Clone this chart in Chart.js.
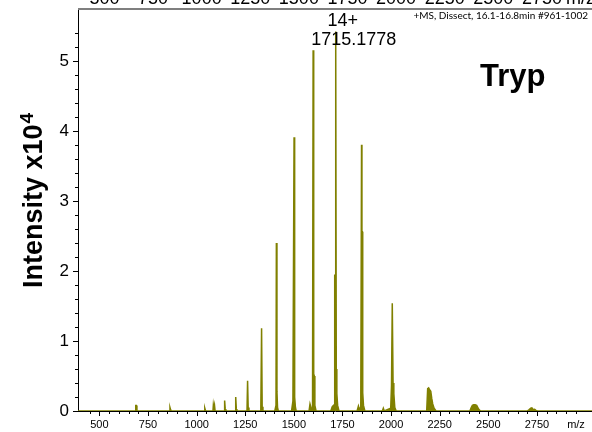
<!DOCTYPE html>
<html>
<head>
<meta charset="utf-8">
<script src="https://cdn.jsdelivr.net/npm/chart.js@4/dist/chart.umd.min.js"></script>
<style>
  html, body { margin: 0; padding: 0; background: #fff; }
  canvas { display: block; }
</style>
</head>
<body>
<canvas id="spectrum" width="592" height="432"></canvas>
<script>
// profile of the deconvoluted Tryp spectrum, m/z vs intensity (x10^4)
const mz = [
  390, 684, 687, 690, 693,
  860, 863, 866, 869,
  1039, 1042, 1045, 1048,
  1084, 1086, 1089, 1092, 1095,
  1141, 1144, 1147, 1150,
  1198, 1201, 1204, 1207,
  1259, 1262, 1265, 1269,
  1330, 1334, 1337, 1341,
  1402, 1405, 1408, 1410, 1413, 1416, 1420,
  1488, 1492, 1495, 1497, 1499, 1501, 1504, 1508, 1512,
  1578, 1583, 1587, 1591, 1596, 1599, 1602, 1605, 1608, 1614,
  1690, 1697, 1703, 1708, 1710, 1712, 1715.18, 1718, 1721, 1725, 1732,
  1825, 1832, 1836, 1844, 1848, 1850, 1852, 1854, 1858, 1865,
  1955, 1960, 1965, 1998, 2002, 2006, 2010, 2014, 2019, 2026,
  2183, 2188, 2193, 2199, 2204, 2209, 2214, 2221, 2231,
  2405, 2412, 2418, 2425, 2432, 2440, 2446, 2452, 2460,
  2700, 2710, 2718, 2724, 2730, 2738, 2745, 2752,
  3033
];
const intensity = [
  0, 0, 0.08, 0.08, 0,
  0, 0.05, 0.02, 0,
  0, 0.04, 0.01, 0,
  0, 0.085, 0.03, 0.08, 0,
  0, 0.15, 0.03, 0,
  0, 0.2, 0.03, 0,
  0, 0.43, 0.05, 0,
  0, 1.18, 0.06, 0,
  0, 0.04, 0, 2.4, 0.28, 0.05, 0,
  0, 0.08, 0.02, 1.4, 1.4, 3.91, 0.2, 0.05, 0,
  0, 0.1, 0.1, 0.02, 0.05, 5.15, 0.53, 0.5, 0.08, 0,
  0, 0.06, 0.08, 0.04, 1.94, 1.94, 5.42, 0.6, 0.25, 0.08, 0,
  0, 0.07, 0.03, 0.05, 3.8, 2.56, 2.56, 0.26, 0.08, 0,
  0, 0.04, 0, 0.04, 0.36, 1.54, 0.4, 0.25, 0.05, 0,
  0, 0.32, 0.33, 0.3, 0.28, 0.18, 0.1, 0.04, 0,
  0, 0.05, 0.08, 0.09, 0.09, 0.08, 0.05, 0.02, 0,
  0, 0.02, 0.04, 0.045, 0.02, 0.025, 0.01, 0,
  0
];
const xLabels = [500, 750, 1000, 1250, 1500, 1750, 2000, 2250, 2500, 2750];
const yLabels = [0, 1, 2, 3, 4, 5];
const peakCharge = '14+';
const peakMz = 1715.1778;
const scanInfo = '+MS, Dissect, 16.1-16.8min #961-1002';
const sampleName = 'Tryp';

const olive = 'rgb(128,128,0)';
const points = mz.map((m, i) => ({ x: m, y: intensity[i] }));

const near = (v, step) => Math.abs(v / step - Math.round(v / step)) < 1e-6;

// no extra room for half-labels at the axis ends
const noPad = s => {
  s.paddingTop = 0; s.paddingBottom = 0;
  s.paddingLeft = 0; s.paddingRight = 0;
};

const decor = {
  id: 'decor',
  afterDraw(chart) {
    const { ctx, chartArea: a, scales: { x, y } } = chart;
    ctx.save();

    // grey frame line along the top
    ctx.strokeStyle = '#7f7f7f';
    ctx.lineWidth = 2;
    ctx.beginPath();
    ctx.moveTo(a.left, a.top);
    ctx.lineTo(chart.width, a.top);
    ctx.stroke();

    // tick marks, long on labelled values
    ctx.strokeStyle = '#000';
    ctx.lineWidth = 1;
    ctx.beginPath();
    x.ticks.forEach(t => {
      if (!near(t.value, 50)) return;
      const px = Math.round(x.getPixelForValue(t.value)) + 0.5;
      const len = near(t.value, 250) ? 5 : 3;
      ctx.moveTo(px, a.bottom);
      ctx.lineTo(px, a.bottom + len);
    });
    y.ticks.forEach(t => {
      if (!near(t.value, 0.2)) return;
      const py = Math.round(y.getPixelForValue(t.value)) + 0.5;
      const len = near(t.value, 1) ? 5 : 3;
      ctx.moveTo(a.left, py);
      ctx.lineTo(a.left - len, py);
    });
    ctx.stroke();

    ctx.fillStyle = '#000';

    // tail of the axis labels of the panel above
    ctx.font = '18px "Liberation Sans", Arial, sans-serif';
    ctx.textAlign = 'center';
    ctx.textBaseline = 'alphabetic';
    xLabels.forEach(v => ctx.fillText(String(v), x.getPixelForValue(v) + 5, 4));
    ctx.textAlign = 'left';
    ctx.fillText('m/z', 566, 4);

    // m/z unit at the end of the x axis
    ctx.font = '11px "Liberation Sans", Arial, sans-serif';
    ctx.textAlign = 'center';
    ctx.textBaseline = 'middle';
    ctx.fillText('m/z', 576, 425);

    // peak annotation
    const px = x.getPixelForValue(peakMz);
    ctx.font = '18px "Liberation Sans", Arial, sans-serif';
    ctx.textBaseline = 'alphabetic';
    ctx.fillText(peakCharge, px + 7, 26);
    ctx.fillText(peakMz.toFixed(4), px + 18, 45);

    // scan info
    ctx.font = '10px Lato, "Open Sans", sans-serif';
    ctx.textAlign = 'right';
    ctx.fillText(scanInfo, 588, 19);

    // sample name
    ctx.font = 'bold 31px "Liberation Sans", Arial, sans-serif';
    ctx.textAlign = 'left';
    ctx.fillText(sampleName, 480, 86);

    // y axis title with superscript exponent
    ctx.translate(42, 288);
    ctx.rotate(-Math.PI / 2);
    ctx.font = 'bold 27px "Liberation Sans", Arial, sans-serif';
    ctx.textAlign = 'left';
    const base = 'Intensity x10';
    ctx.fillText(base, 0, 0);
    const w = ctx.measureText(base).width;
    ctx.font = 'bold 19px "Liberation Sans", Arial, sans-serif';
    ctx.fillText('4', w + 1, -9);

    ctx.restore();
  }
};

new Chart(document.getElementById('spectrum'), {
  type: 'line',
  data: {
    datasets: [{
      data: points,
      borderColor: olive,
      backgroundColor: olive,
      borderWidth: 1.5,
      pointRadius: 0,
      tension: 0,
      fill: 'origin'
    }]
  },
  options: {
    responsive: false,
    animation: false,
    events: [],
    layout: { padding: { top: 9, right: 0, left: 0, bottom: 0 } },
    plugins: {
      legend: { display: false },
      tooltip: { enabled: false }
    },
    scales: {
      x: {
        type: 'linear',
        min: 390,
        max: 3033,
        afterFit: s => { s.height = 21; noPad(s); },
        grid: { display: false, drawTicks: false },
        border: { display: true, color: '#000', width: 1 },
        ticks: {
          stepSize: 50,
          autoSkip: false,
          maxRotation: 0,
          padding: 7,
          color: '#000',
          font: { family: '"Liberation Sans", Arial, sans-serif', size: 11 },
          callback: v => (xLabels.includes(v) ? String(v) : '')
        }
      },
      y: {
        min: 0,
        max: 5.74,
        afterFit: s => { s.width = 78; noPad(s); },
        grid: { display: false, drawTicks: false },
        border: { display: true, color: '#000', width: 1 },
        ticks: {
          stepSize: 0.2,
          autoSkip: false,
          padding: 9,
          color: '#000',
          font: { family: '"Liberation Sans", Arial, sans-serif', size: 17 },
          callback: v => {
            const r = Math.round(v);
            return Math.abs(v - r) < 1e-6 && yLabels.includes(r) ? String(r) : '';
          }
        }
      }
    }
  },
  plugins: [decor]
});
</script>
</body>
</html>
